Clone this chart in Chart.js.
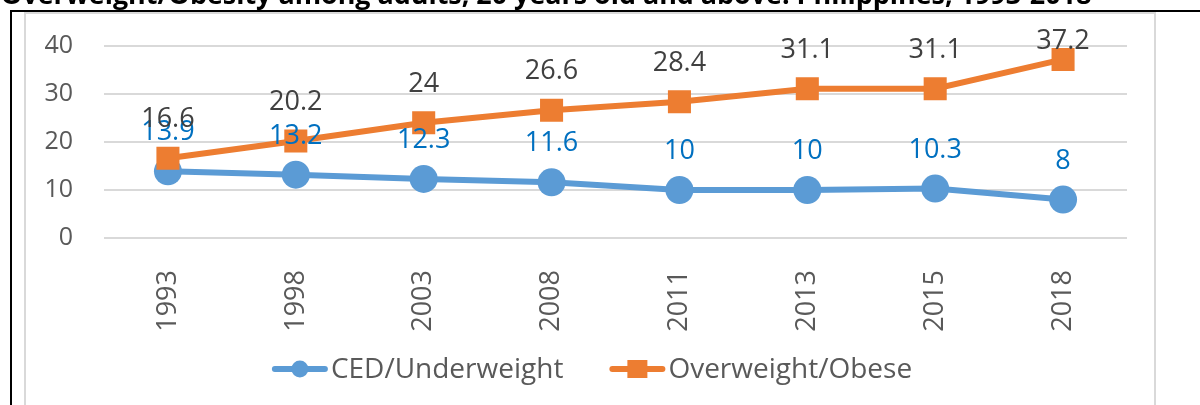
<!DOCTYPE html>
<html>
<head>
<meta charset="utf-8">
<script src="https://cdn.jsdelivr.net/npm/chart.js@4"></script>
<style>
  html, body { margin: 0; padding: 0; background: #fff; overflow: hidden; }
  body { width: 1200px; height: 405px; position: relative; font-family: 'Open Sans', sans-serif; }
  #outer { position: absolute; left: 10px; top: 10px; width: 1300px; height: 500px; border-left: 2px solid #000; border-top: 2px solid #000; }
  #frame { position: absolute; left: 24px; top: 12px; width: 1128px; height: 500px; border: 2px solid #d9d9d9; }
  #title { position: absolute; left: 1px; top: -5px; line-height: 0; font-weight: bold; white-space: nowrap; color: #000; }
  #chart { position: absolute; left: 0; top: 0; }
</style>
</head>
<body>
<div id="outer"></div>
<div id="frame"></div>
<canvas id="chart" width="1200" height="405"></canvas>
<div id="title">Overweight/Obesity among adults, 20 years old and above: Philippines, 1993-2018</div>
<script>
const years = ['1993', '1998', '2003', '2008', '2011', '2013', '2015', '2018'];
const underweight = [13.9, 13.2, 12.3, 11.6, 10, 10, 10.3, 8];
const overweight = [16.6, 20.2, 24, 26.6, 28.4, 31.1, 31.1, 37.2];
const yTicks = [0, 10, 20, 30, 40];

// title is cut off at the top of the picture, fit it to the same width
const titleEl = document.getElementById('title');
const mctx = document.createElement('canvas').getContext('2d');
mctx.font = 'bold 100px "Open Sans"';
const titleSize = 100 * 1091 / mctx.measureText(titleEl.textContent).width;
titleEl.style.fontSize = titleSize + 'px';
titleEl.style.top = (4 - 0.388 * titleSize) + 'px';

// value above each point, kept inside the plot like excel does
const valueLabels = {
    id: 'valueLabels',
    afterDatasetsDraw(chart) {
        const ctx = chart.ctx;
        const minBase = chart.chartArea.top + 3;
        chart.data.datasets.forEach((ds, i) => {
            const meta = chart.getDatasetMeta(i);
            ctx.save();
            ctx.font = '27px "Open Sans"';
            ctx.fillStyle = ds.labelColor;
            ctx.textAlign = 'center';
            ctx.textBaseline = 'alphabetic';
            meta.data.forEach((pt, j) => {
                ctx.fillText(String(ds.data[j]), pt.x, Math.max(pt.y - 31, minBase));
            });
            ctx.restore();
        });
    }
};

// excel style legend: line with marker, then the label
const lineLegend = {
    id: 'lineLegend',
    afterDraw(chart) {
        const ctx = chart.ctx;
        ctx.save();
        ctx.font = '28px "Open Sans"';
        const lineLen = 56, textGap = 3, itemGap = 46;
        const items = chart.data.datasets.map(ds => ({ ds: ds, w: lineLen + textGap + ctx.measureText(ds.label).width }));
        const total = items.reduce((s, it) => s + it.w, 0) + itemGap * (items.length - 1);
        let x = 592 - total / 2;
        const y = 369;
        items.forEach(it => {
            const ds = it.ds;
            ctx.strokeStyle = ds.borderColor;
            ctx.lineWidth = 6;
            ctx.lineCap = 'round';
            ctx.beginPath();
            ctx.moveTo(x + 3, y);
            ctx.lineTo(x + lineLen - 3, y);
            ctx.stroke();
            ctx.fillStyle = ds.borderColor;
            const cx = x + lineLen / 2;
            if (ds.pointStyle === 'circle') {
                ctx.beginPath();
                ctx.arc(cx, y, 8.5, 0, Math.PI * 2);
                ctx.fill();
            } else {
                ctx.fillRect(cx - 10, y - 9, 20, 18);
            }
            ctx.fillStyle = '#595959';
            ctx.textAlign = 'left';
            ctx.textBaseline = 'alphabetic';
            ctx.fillText(ds.label, x + lineLen + textGap, y + 9);
            x += it.w + itemGap;
        });
        ctx.restore();
    }
};

new Chart(document.getElementById('chart'), {
    type: 'line',
    data: {
        labels: years,
        datasets: [{
            label: 'CED/Underweight',
            data: underweight,
            borderColor: '#5B9BD5',
            backgroundColor: '#5B9BD5',
            borderWidth: 6,
            pointStyle: 'circle',
            pointRadius: 14,
            pointHoverRadius: 14,
            pointBorderWidth: 0,
            labelColor: '#0070C0',
            order: 2
        }, {
            label: 'Overweight/Obese',
            data: overweight,
            borderColor: '#ED7D31',
            backgroundColor: '#ED7D31',
            borderWidth: 6,
            pointStyle: 'rect',
            pointRadius: 16.3,
            pointHoverRadius: 16.3,
            pointBorderWidth: 0,
            labelColor: '#404040',
            order: 1
        }]
    },
    options: {
        responsive: false,
        animation: false,
        events: [],
        layout: { padding: { left: 26, top: 44, right: 73, bottom: 0 } },
        plugins: {
            legend: { display: false },
            tooltip: { enabled: false }
        },
        scales: {
            x: {
                offset: true,
                grid: { display: false },
                border: { display: false },
                ticks: {
                    color: '#595959',
                    font: { family: 'Open Sans', size: 27 },
                    minRotation: 90,
                    maxRotation: 90,
                    autoSkip: false,
                    padding: 24
                },
                afterFit(s) { s.height = 167; }
            },
            y: {
                min: 0,
                max: 40,
                grid: { color: '#d9d9d9', lineWidth: 2, drawTicks: false },
                border: { display: false },
                ticks: {
                    color: '#595959',
                    font: { family: 'Open Sans', size: 25 },
                    padding: 31
                },
                afterBuildTicks(s) { s.ticks = yTicks.map(v => ({ value: v })); },
                afterFit(s) { s.width = 78; }
            }
        }
    },
    plugins: [valueLabels, lineLegend]
});
</script>
</body>
</html>
